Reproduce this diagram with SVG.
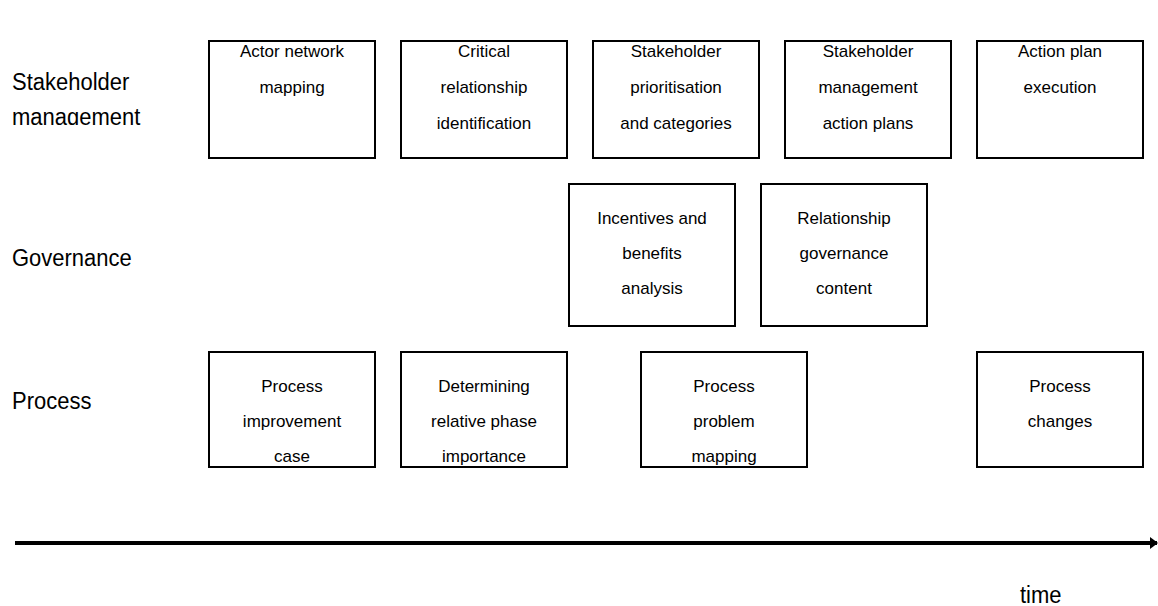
<svg xmlns="http://www.w3.org/2000/svg" width="1158" height="606" viewBox="0 0 1158 606">
<style>
.box{fill:#fff;stroke:#000;stroke-width:2}
.t{font-family:"Liberation Sans",Arial,sans-serif;font-size:17px;fill:#000;text-anchor:middle}
.lbl{font-family:"Liberation Sans",Arial,sans-serif;font-size:22px;fill:#000}
</style>
<defs>
<marker id="ah" markerWidth="8" markerHeight="12" refX="7" refY="6" orient="auto" markerUnits="userSpaceOnUse">
<path d="M0,0 L8,6 L0,12 z" fill="#000"/>
</marker>
<clipPath id="lc"><rect x="0" y="0" width="200" height="125"/></clipPath>
</defs>
<rect width="1158" height="606" fill="#fff"/>
<g id="labels">
<g clip-path="url(#lc)"><text class="lbl" transform="translate(12,90) scale(1,1.12)">Stakeholder</text><text class="lbl" transform="translate(12,125) scale(1,1.12)">management</text></g>
<text class="lbl" transform="translate(12,266) scale(1,1.12)">Governance</text>
<text class="lbl" transform="translate(12,409) scale(1,1.12)">Process</text>
<text class="lbl" transform="translate(1020,603) scale(1,1.12)">time</text>
</g>
<g id="n1"><rect class="box" x="209" y="41" width="166" height="117"/><text class="t" x="292" y="57">Actor network</text><text class="t" x="292" y="93">mapping</text></g>
<g id="n2"><rect class="box" x="401" y="41" width="166" height="117"/><text class="t" x="484" y="57">Critical</text><text class="t" x="484" y="93">relationship</text><text class="t" x="484" y="129">identification</text></g>
<g id="n3"><rect class="box" x="593" y="41" width="166" height="117"/><text class="t" x="676" y="57">Stakeholder</text><text class="t" x="676" y="93">prioritisation</text><text class="t" x="676" y="129">and categories</text></g>
<g id="n4"><rect class="box" x="785" y="41" width="166" height="117"/><text class="t" x="868" y="57">Stakeholder</text><text class="t" x="868" y="93">management</text><text class="t" x="868" y="129">action plans</text></g>
<g id="n5"><rect class="box" x="977" y="41" width="166" height="117"/><text class="t" x="1060" y="57">Action plan</text><text class="t" x="1060" y="93">execution</text></g>
<g id="n6"><rect class="box" x="569" y="184" width="166" height="142"/><text class="t" x="652" y="224">Incentives and</text><text class="t" x="652" y="259">benefits</text><text class="t" x="652" y="294">analysis</text></g>
<g id="n7"><rect class="box" x="761" y="184" width="166" height="142"/><text class="t" x="844" y="224">Relationship</text><text class="t" x="844" y="259">governance</text><text class="t" x="844" y="294">content</text></g>
<g id="n8"><rect class="box" x="209" y="352" width="166" height="115"/><text class="t" x="292" y="392">Process</text><text class="t" x="292" y="427">improvement</text><text class="t" x="292" y="462">case</text></g>
<g id="n9"><rect class="box" x="401" y="352" width="166" height="115"/><text class="t" x="484" y="392">Determining</text><text class="t" x="484" y="427">relative phase</text><text class="t" x="484" y="462">importance</text></g>
<g id="n10"><rect class="box" x="641" y="352" width="166" height="115"/><text class="t" x="724" y="392">Process</text><text class="t" x="724" y="427">problem</text><text class="t" x="724" y="462">mapping</text></g>
<g id="n11"><rect class="box" x="977" y="352" width="166" height="115"/><text class="t" x="1060" y="392">Process</text><text class="t" x="1060" y="427">changes</text></g>
<g id="connectors">
<line x1="15" y1="543" x2="1157" y2="543" stroke="#000" stroke-width="4" marker-end="url(#ah)"/>
</g>
</svg>
